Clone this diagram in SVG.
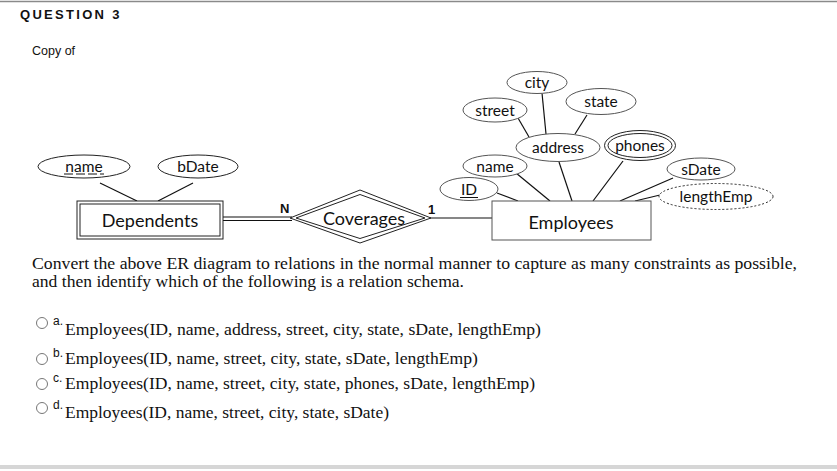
<svg xmlns="http://www.w3.org/2000/svg" width="837" height="471" viewBox="0 0 837 471">
<style>
.er{font-family:Lato,"Noto Sans",sans-serif;fill:#111;text-anchor:middle}
.att{font-size:15.5px}
.ent{font-size:18px}
.shp{fill:#fff;stroke:#222;stroke-width:1}
.thin{fill:#fff;stroke:#555;stroke-width:1}
.ln{stroke:#111;stroke-width:1.2;fill:none}
.q{font-family:"Liberation Serif","Times New Roman",serif;font-size:16.5px;fill:#111}
.lbl{font-family:"Liberation Sans",Arial,sans-serif;font-size:12px;fill:#111}
.rad{fill:#fff;stroke:#777;stroke-width:1}
</style>
<rect x="0" y="0" width="837" height="471" fill="#fff"/>
<line x1="0" y1="1.5" x2="837" y2="1.5" stroke="#8a8a8a" stroke-width="1.5"/>
<rect x="0" y="465" width="837" height="4" fill="#d6d6d6"/>
<text x="20" y="19" font-family="'Liberation Sans',Arial,sans-serif" font-size="13" font-weight="bold" letter-spacing="2.3" fill="#111">QUESTION 3</text>
<text x="32" y="55" font-family="'Liberation Sans',Arial,sans-serif" font-size="12.5" fill="#111">Copy of</text>

<g id="connectors">
<line class="ln" x1="100" y1="183" x2="137" y2="201"/>
<line class="ln" x1="193" y1="183" x2="158" y2="201"/>
<line class="ln" x1="223" y1="217" x2="292" y2="217"/>
<line class="ln" x1="223" y1="220.5" x2="292" y2="220.5"/>
<line class="ln" x1="430" y1="218" x2="492" y2="218" stroke="#444"/>
<line class="ln" x1="518" y1="118" x2="529" y2="137"/>
<line class="ln" x1="542" y1="93" x2="546" y2="134"/>
<line class="ln" x1="587" y1="115" x2="575" y2="134"/>
<line class="ln" x1="497" y1="193" x2="518" y2="201"/>
<line class="ln" x1="516" y1="173" x2="550" y2="201"/>
<line class="ln" x1="559" y1="162" x2="572" y2="201"/>
<line class="ln" x1="623" y1="161" x2="593" y2="201"/>
<line class="ln" x1="673" y1="178" x2="620" y2="201"/>
<line class="ln" x1="660" y1="195" x2="635" y2="201"/>
</g>

<g id="dep-name">
<ellipse class="shp" cx="84" cy="166.5" rx="46" ry="11.5"/>
<text class="er att" x="84" y="172">name</text>
<line x1="64" y1="174" x2="104" y2="174" stroke="#111" stroke-width="1" stroke-dasharray="9,3"/>
</g>
<g id="dep-bDate">
<ellipse class="shp" cx="198" cy="166.5" rx="40" ry="11.5"/>
<text class="er att" x="198" y="172">bDate</text>
</g>
<g id="Dependents">
<rect class="shp" x="77" y="201" width="146" height="38"/>
<rect class="shp" x="80" y="204" width="140" height="32"/>
<text class="er ent" x="150" y="227">Dependents</text>
</g>
<g id="Coverages">
<polygon class="shp" points="290,218 360,190 431,218 360,243"/>
<polygon class="shp" points="296,218 360,194.5 425,218 360,238.5"/>
<text class="er ent" x="364" y="225">Coverages</text>
<text x="280" y="213" font-family="'Liberation Sans',Arial,sans-serif" font-size="13" font-weight="bold" fill="#111">N</text>
<text x="428" y="214" font-family="'Liberation Sans',Arial,sans-serif" font-size="13" font-weight="bold" fill="#111">1</text>
</g>
<g id="Employees">
<rect class="thin" x="492" y="201" width="159" height="39"/>
<text class="er ent" x="571" y="229">Employees</text>
</g>
<g id="emp-ID">
<ellipse class="thin" cx="469" cy="189" rx="29" ry="11.5"/>
<text class="er att" x="469" y="194.5">ID</text>
<line x1="460" y1="197.5" x2="478" y2="197.5" stroke="#111" stroke-width="1"/>
</g>
<g id="emp-name">
<ellipse class="thin" cx="495" cy="166" rx="32" ry="11"/>
<text class="er att" x="495" y="171.5">name</text>
</g>
<g id="address">
<ellipse class="thin" cx="558" cy="147.5" rx="42" ry="14"/>
<text class="er att" x="558" y="153">address</text>
</g>
<g id="street">
<ellipse class="thin" cx="495" cy="110" rx="32" ry="12"/>
<text class="er att" x="495" y="115.5">street</text>
</g>
<g id="city">
<ellipse class="thin" cx="537" cy="82.5" rx="30" ry="11"/>
<text class="er att" x="537" y="88">city</text>
</g>
<g id="state">
<ellipse class="thin" cx="601" cy="101.5" rx="35" ry="13"/>
<text class="er att" x="601" y="107">state</text>
</g>
<g id="phones">
<ellipse class="shp" cx="640" cy="145.5" rx="35.5" ry="15" stroke-width="1.3"/>
<ellipse class="shp" cx="640" cy="145.5" rx="32" ry="12" stroke-width="1.3"/>
<text class="er att" x="640" y="151">phones</text>
</g>
<g id="sDate">
<ellipse class="thin" cx="701" cy="169" rx="34" ry="11"/>
<text class="er att" x="701" y="174.5">sDate</text>
</g>
<g id="lengthEmp">
<ellipse class="shp" cx="716" cy="196.5" rx="57" ry="13" stroke="#666" stroke-dasharray="2,2"/>
<text class="er att" x="716" y="202">lengthEmp</text>
</g>

<text class="q" x="32" y="269" textLength="765" lengthAdjust="spacingAndGlyphs">Convert the above ER diagram to relations in the normal manner to capture as many constraints as possible,</text>
<text class="q" x="32" y="287" textLength="432" lengthAdjust="spacingAndGlyphs">and then identify which of the following is a relation schema.</text>

<circle class="rad" cx="42" cy="323" r="5.5"/>
<text class="lbl" x="53" y="325">a.</text>
<text class="q" x="65" y="335" textLength="476" lengthAdjust="spacingAndGlyphs">Employees(ID, name, address, street, city, state, sDate, lengthEmp)</text>
<circle class="rad" cx="42" cy="359" r="5.5"/>
<text class="lbl" x="53" y="357">b.</text>
<text class="q" x="65" y="364" textLength="413" lengthAdjust="spacingAndGlyphs">Employees(ID, name, street, city, state, sDate, lengthEmp)</text>
<circle class="rad" cx="42" cy="384" r="5.5"/>
<text class="lbl" x="53" y="382">c.</text>
<text class="q" x="65" y="389" textLength="470" lengthAdjust="spacingAndGlyphs">Employees(ID, name, street, city, state, phones, sDate, lengthEmp)</text>
<circle class="rad" cx="42" cy="408" r="5.5"/>
<text class="lbl" x="53" y="409">d.</text>
<text class="q" x="65" y="418" textLength="324" lengthAdjust="spacingAndGlyphs">Employees(ID, name, street, city, state, sDate)</text>
</svg>
